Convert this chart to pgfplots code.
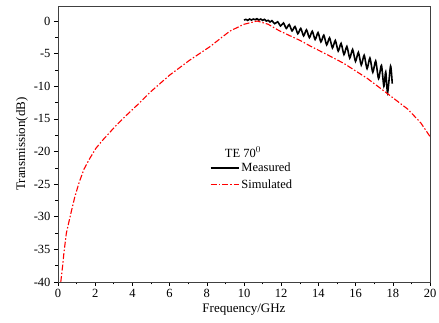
\documentclass[border=0pt]{standalone}
\usepackage{pgfplots}
\pgfplotsset{compat=1.18}
\usepackage{fontspec}
\setmainfont{Liberation Serif}
\begin{document}
\begin{tikzpicture}
\begin{axis}[
  width=372pt, height=276pt, scale only axis,
  xmin=0, xmax=20, ymin=-40, ymax=2.3,
  xtick={0,2,...,20}, minor x tick num=1,
  ytick={-40,-35,...,0}, minor y tick num=1,
  tick align=outside, tick pos=left,
  major tick length=4pt, minor tick length=2.5pt,
  axis line style={black!75, line width=0.8pt},
  every tick/.style={black, line width=0.6pt},
  /pgf/number format/assume math mode=true,
  tick label style={font=\fontsize{12.5}{14}\selectfont},
  label style={font=\fontsize{13}{15}\selectfont},
  xlabel={Frequency/GHz},
  ylabel={Transmission(dB)},
  xlabel style={yshift=1pt},
  ylabel style={yshift=-1pt},
  legend style={at={(rel axis cs:0.405,0.442)}, anchor=north west, draw=none, fill=none,
    font=\fontsize{12.5}{14}\selectfont, row sep=2pt, inner sep=1pt},
  legend cell align=left,
  legend image code/.code={\draw[#1] (0pt,0pt) -- (28pt,0pt);},
]
\addplot[black, line width=1.6pt, smooth, tension=0.4] coordinates {
(10.0,0.15) (10.1,0.25) (10.2,0.1) (10.3,0.3) (10.4,0.15) (10.5,0.3) (10.6,0.2)
(10.7,0.35) (10.8,0.15) (10.9,0.3) (11.0,0.1) (11.1,0.25) (11.2,0.0) (11.3,0.1)
(11.4,-0.15) (11.5,0.05)
(11.655,-0.41) (11.81,-0.12) (11.965,-0.76) (12.12,-0.30) (12.275,-1.14)
(12.43,-0.54) (12.585,-1.52) (12.74,-0.84) (12.895,-1.95) (13.05,-1.14)
(13.205,-2.28) (13.36,-1.35) (13.515,-2.56) (13.67,-1.57) (13.825,-2.84)
(13.98,-1.78) (14.135,-3.20) (14.29,-2.18) (14.445,-3.66) (14.60,-2.58)
(14.755,-4.13) (14.91,-2.98) (15.065,-4.61) (15.22,-3.43) (15.375,-5.14)
(15.53,-3.90) (15.685,-5.67) (15.84,-4.36) (15.995,-6.19) (16.15,-4.81)
(16.305,-6.75) (16.46,-5.25) (16.615,-7.30) (16.77,-5.68) (16.925,-7.86)
(17.08,-6.13) (17.235,-8.84) (17.39,-6.8) (17.52,-10.0) (17.62,-7.8)
(17.72,-11.0) (17.88,-6.9) (17.97,-9.6)
};
\addlegendentry{Measured}
\addplot[red, line width=1.1pt, dash pattern=on 6pt off 2pt on 1.5pt off 2pt] coordinates {
(0.15,-40) (0.25,-37.5) (0.32,-35.5) (0.45,-32.5) (0.69,-29.5) (0.9,-27)
(1.14,-24.7) (1.4,-22.7) (1.68,-21.2) (2.04,-19.5) (2.39,-18.3) (3.03,-16.3)
(3.66,-14.5) (4.29,-12.8) (4.92,-11.0) (6.0,-8.3) (7.08,-6.0) (8.16,-3.95)
(9.24,-1.55) (10.0,-0.5) (10.7,0) (11.3,-0.5) (11.9,-1.5) (12.5,-2.3)
(13.03,-3.0) (13.57,-3.85) (14.5,-5.2) (15.37,-6.5) (16.63,-8.8) (17.7,-11.1)
(18.8,-13.5) (19.5,-15.6) (20,-17.7)
};
\addlegendentry{Simulated}
\node[font=\fontsize{12.5}{14}\selectfont] at (rel axis cs:0.497,0.471) {TE 70$^0$};
\end{axis}
\pgfresetboundingbox
\useasboundingbox ([xshift=-58pt,yshift=-41pt]current axis.south west) rectangle ([xshift=9pt,yshift=6pt]current axis.north east);
\end{tikzpicture}
\end{document}
